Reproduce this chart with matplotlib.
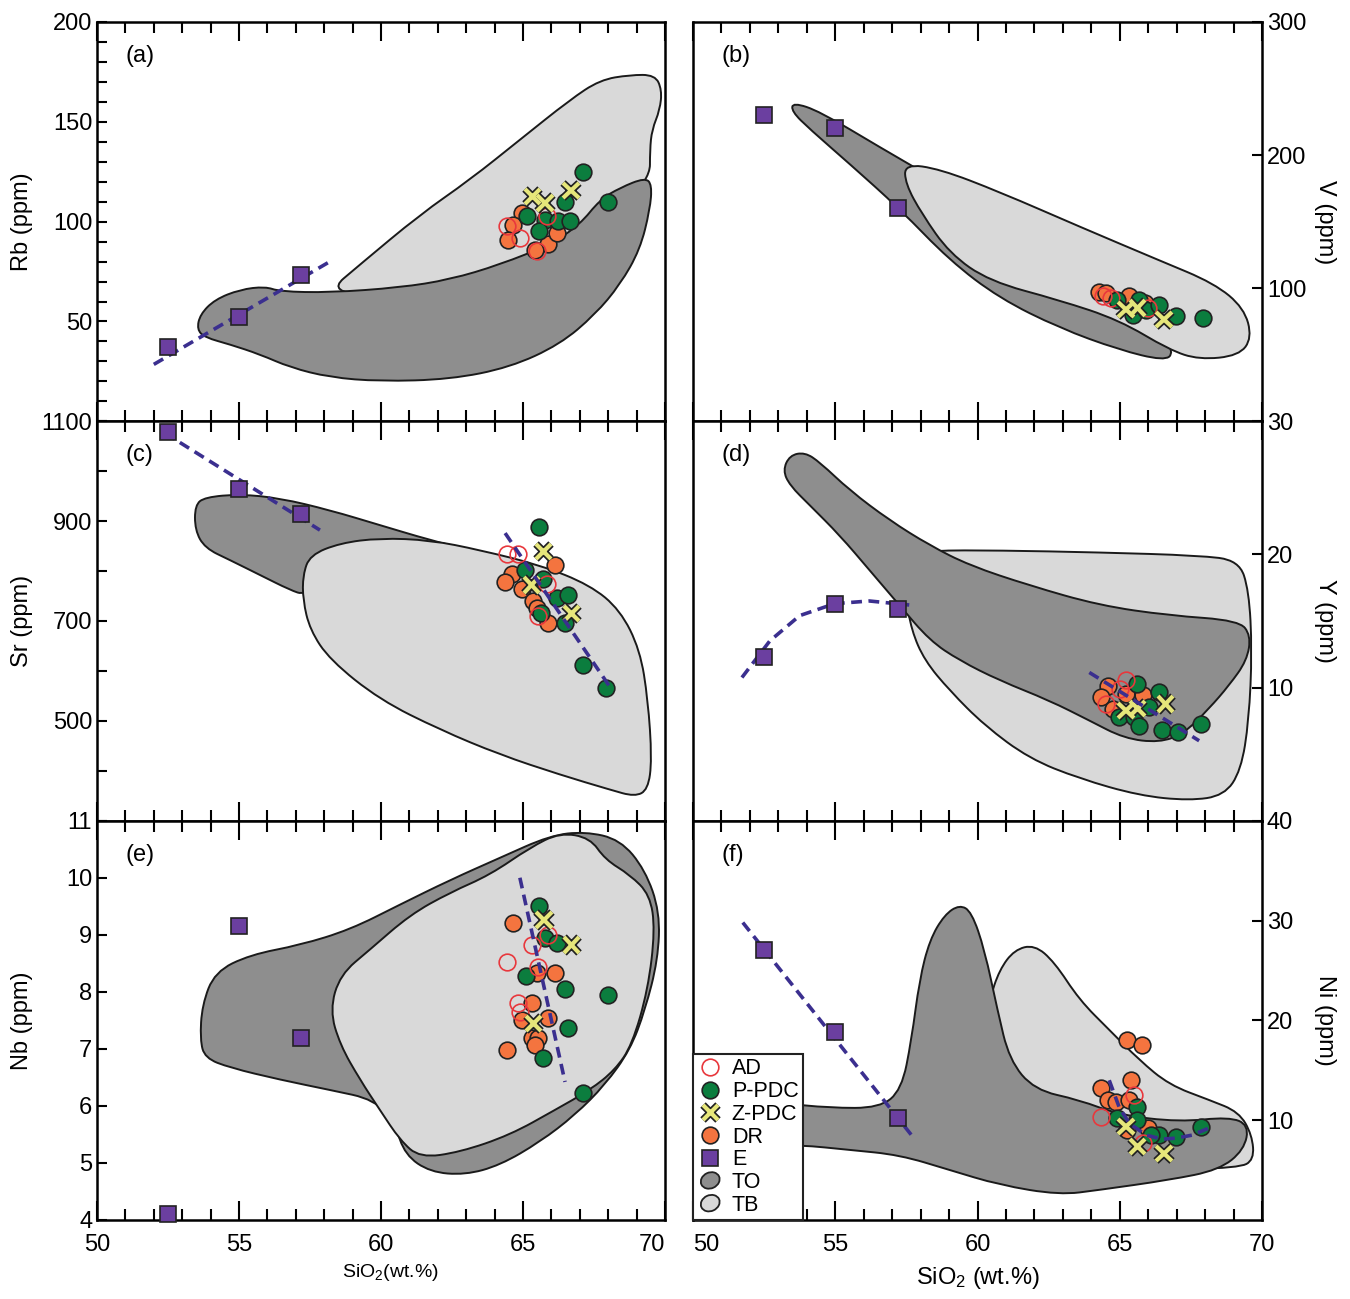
import matplotlib
matplotlib.use("Agg")
import matplotlib.pyplot as plt
import matplotlib.patheffects as pe
from matplotlib.patches import PathPatch, Ellipse, Patch
from matplotlib.path import Path
from matplotlib.lines import Line2D
from matplotlib.legend_handler import HandlerPatch
from matplotlib.ticker import MultipleLocator

plt.rcParams["font.family"] = ["Liberation Sans", "DejaVu Sans"]
plt.rcParams["mathtext.fontset"] = "custom"
plt.rcParams["mathtext.rm"] = "Liberation Sans"
plt.rcParams["mathtext.default"] = "regular"

# ---- E samples (SiO2 shared) ----
e_sio2 = [52.5, 55.0, 57.2]
e_rb = [37, 52, 73.5]
e_v = [230, 220, 160]
e_sr = [1078, 964, 914]
e_y = [12.3, 16.3, 15.9]
e_nb = [4.1, 9.16, 7.19]
e_ni = [27.0, 18.8, 10.2]

# ---- (a) Rb ----
rb_ad = [(64.43, 97.7), (65.83, 102.7), (64.89, 92.0), (65.48, 85.2)]
rb_ppdc = [(67.10, 124.7), (68.0, 109.9), (66.48, 109.7), (65.13, 102.7), (65.77, 100.7),
           (66.24, 100.2), (66.65, 100.2), (65.56, 95.2)]
rb_zpdc = [(65.34, 112.7), (65.77, 109.4), (66.69, 115.7)]
rb_dr = [(64.95, 104.4), (64.66, 98.5), (64.48, 91.0), (65.89, 89.0), (65.42, 86.0), (66.19, 94.4)]
rb_to = [(53.52, 46), (53.63, 53.5), (54.15, 61), (55.04, 66), (55.92, 67.5), (56.44, 65),
         (58.2, 64.5), (60.67, 67), (62.43, 71), (64.19, 78.5), (65.95, 88.5), (67.0, 98.5),
         (67.71, 111), (68.42, 117), (69.3, 122), (69.54, 118.5), (69.47, 106), (69.12, 86),
         (68.42, 68.5), (67.54, 53.5), (66.3, 38.5), (64.54, 27), (62.43, 21), (59.96, 20),
         (58.2, 22), (56.8, 27), (55.74, 33.5), (54.68, 38.5), (53.8, 42)]
rb_tb = [(58.1, 64.5), (59.26, 78.5), (61.37, 103.5), (63.13, 121), (64.89, 141), (66.65, 161),
         (67.71, 171), (68.77, 173.5), (69.65, 173.5), (69.89, 166), (69.82, 156), (69.54, 146),
         (69.47, 136), (69.47, 121), (67.71, 96), (64.19, 68.5), (60.67, 62.5)]
rb_e_fit = [(52.0, 28.5), (58.2, 80.0)]

# ---- (b) V ----
v_ad = [(64.4, 94.0), (64.7, 92.5), (66.0, 85.0)]
v_ppdc = [(64.92, 91.3), (65.68, 91.3), (65.45, 80.1), (65.92, 83.8), (66.39, 87.5),
          (66.97, 78.9), (67.91, 77.6)]
v_zpdc = [(65.22, 83.8), (65.63, 85.1), (66.56, 76.3)]
v_dr = [(64.28, 97.5), (64.52, 96.3), (65.33, 93.8), (65.9, 88.9)]
v_to = [(53.51, 239.6), (54.46, 232.8), (56.56, 206.0), (58.67, 179.9), (60.77, 150.7),
        (62.88, 120.9), (64.98, 92.5), (66.39, 70.1), (66.91, 51.5), (66.56, 45.5),
        (64.98, 53.7), (62.88, 70.1), (60.77, 92.5), (59.02, 120.9), (57.26, 159.7),
        (55.51, 193.3), (54.11, 219.4), (53.47, 232.8)]
v_tb = [(57.44, 193.3), (58.67, 189.6), (60.77, 172.4), (63.58, 146.3), (66.39, 120.9),
        (68.32, 103.7), (69.37, 85.1), (69.65, 62.7), (69.19, 49.3), (67.79, 46.3),
        (66.74, 53.7), (64.98, 76.1), (62.88, 91.0), (60.42, 105.2), (59.02, 126.1),
        (58.04, 156.0), (57.47, 178.4)]

# ---- (c) Sr ----
sr_ad = [(64.43, 835), (64.83, 835), (65.83, 775), (65.54, 709)]
sr_ppdc = [(65.57, 889), (65.07, 802), (65.71, 785), (66.19, 745), (66.6, 752), (65.65, 715),
           (66.48, 695), (67.12, 612), (67.94, 565)]
sr_zpdc = [(65.71, 839), (65.3, 772), (66.71, 715)]
sr_dr = [(66.13, 812), (64.6, 795), (64.37, 779), (64.95, 765), (65.36, 739), (65.5, 725),
         (65.89, 695)]
sr_to = [(53.45, 932), (53.8, 948), (55.04, 954), (56.44, 946), (58.2, 922), (59.96, 892),
         (61.73, 862), (63.13, 842), (61.37, 838), (59.26, 822), (58.2, 786), (57.32, 752),
         (56.8, 762), (55.74, 792), (54.68, 822), (53.8, 846), (53.45, 882)]
sr_tb = [(57.5, 832), (58.56, 856), (59.96, 866), (61.73, 862), (63.49, 842), (65.6, 812),
         (67.36, 772), (68.42, 722), (69.12, 642), (69.4, 542), (69.54, 422), (69.4, 362),
         (68.94, 348), (68.06, 362), (66.3, 392), (64.19, 432), (62.08, 482), (59.96, 542),
         (58.2, 622), (57.5, 682), (57.25, 742), (57.25, 792)]
sr_e_fit = [(52.4, 1076), (57.85, 882)]
sr_s_fit = [(64.37, 876), (68.13, 562)]

# ---- (d) Y ----
y_ad = [(65.22, 10.53), (64.52, 8.77), (65.0, 9.9)]
y_ppdc = [(65.62, 10.28), (66.39, 9.65), (66.04, 8.52), (64.98, 7.77), (65.51, 7.77),
          (65.68, 7.14), (66.5, 6.77), (67.03, 6.64), (67.85, 7.27)]
y_zpdc = [(65.22, 8.27), (65.62, 8.4), (66.62, 8.77)]
y_dr = [(64.57, 10.15), (64.34, 9.27), (64.75, 8.4), (65.22, 9.53), (65.8, 9.4)]
y_to = [(53.4, 27.44), (53.93, 27.67), (54.46, 26.92), (55.51, 24.81), (56.91, 22.56),
        (58.32, 20.68), (59.72, 19.17), (61.82, 17.67), (64.28, 16.17), (66.74, 15.41),
        (69.19, 15.04), (69.61, 13.91), (69.47, 12.03), (68.84, 10.15), (68.14, 8.42),
        (67.26, 6.54), (66.39, 5.86), (65.16, 6.17), (63.93, 7.52), (62.53, 9.02),
        (60.77, 10.53), (59.37, 12.03), (58.32, 13.53), (57.26, 16.17), (56.21, 18.8),
        (55.16, 21.43), (54.11, 23.68), (53.4, 25.19), (53.16, 26.32)]
y_tb = [(57.44, 19.92), (58.32, 20.3), (60.77, 20.3), (64.28, 20.15), (67.79, 19.92),
        (69.19, 19.55), (69.54, 17.29), (69.65, 12.78), (69.54, 7.52), (69.26, 3.76),
        (68.67, 1.88), (67.44, 1.5), (65.68, 1.88), (63.58, 3.16), (61.82, 4.66),
        (60.25, 7.14), (59.02, 9.77), (58.14, 12.03), (57.68, 14.29), (57.47, 16.92)]
y_e_fit = [(51.72, 10.75), (52.7, 13.5), (53.75, 15.4), (54.98, 16.3), (56.2, 16.5), (57.6, 16.2)]
y_s_fit = [(63.93, 11.13), (67.79, 6.0)]

# ---- (e) Nb ----
nb_ad = [(65.89, 9.0), (65.31, 8.82), (64.43, 8.53), (65.54, 8.44), (64.83, 7.8), (64.89, 7.65)]
nb_ppdc = [(65.57, 9.5), (65.77, 8.94), (66.19, 8.85), (65.11, 8.27), (66.48, 8.05),
           (68.0, 7.95), (66.6, 7.36), (65.71, 6.84), (67.12, 6.22)]
nb_zpdc = [(65.74, 9.26), (66.71, 8.82), (65.36, 7.45)]
nb_dr = [(64.66, 9.21), (65.48, 8.33), (66.13, 8.33), (65.3, 7.8), (64.95, 7.51), (65.89, 7.54),
         (65.3, 7.19), (65.54, 7.19), (65.42, 7.07), (64.43, 6.98)]
nb_to = [(53.63, 7.16), (53.7, 7.77), (54.15, 8.35), (55.39, 8.65), (57.15, 8.82), (58.91, 9.09),
         (60.67, 9.53), (62.43, 9.96), (64.19, 10.35), (65.95, 10.74), (67.18, 10.81),
         (68.42, 10.67), (69.3, 10.14), (69.82, 9.4), (69.75, 8.56), (69.3, 7.68), (68.77, 6.98),
         (67.89, 6.37), (66.83, 5.84), (65.6, 5.37), (64.19, 4.96), (62.96, 4.79), (61.73, 4.84),
         (60.85, 5.14), (60.49, 5.67), (59.79, 6.11), (58.2, 6.28), (56.44, 6.46), (54.68, 6.67),
         (53.8, 6.84)]
nb_tb = [(58.2, 7.68), (58.56, 8.3), (59.61, 8.74), (61.02, 9.35), (62.43, 9.74), (63.84, 10.05),
         (65.25, 10.53), (66.3, 10.79), (67.36, 10.7), (67.89, 10.32), (68.77, 10.05),
         (69.47, 9.7), (69.65, 9.09), (69.4, 8.04), (68.84, 7.07), (68.24, 6.63), (67.36, 6.28),
         (66.13, 5.93), (64.54, 5.49), (62.78, 5.19), (61.37, 5.09), (60.67, 5.4), (59.96, 5.93),
         (59.26, 6.46), (58.56, 7.07)]
nb_s_fit = [(64.89, 10.0), (66.48, 6.42)]

# ---- (f) Ni ----
ni_ad = [(65.51, 12.56), (64.34, 10.36), (65.8, 7.69)]
ni_ppdc = [(65.62, 11.36), (64.92, 10.2), (65.62, 10.03), (66.39, 8.52), (66.97, 8.35),
           (67.85, 9.35), (66.1, 8.52)]
ni_zpdc = [(65.22, 9.36), (65.62, 7.35), (66.56, 6.69)]
ni_dr = [(65.27, 18.04), (65.78, 17.54), (65.39, 14.03), (64.34, 13.2), (64.57, 12.06),
         (64.87, 11.86), (65.31, 12.06), (65.27, 9.02), (65.98, 9.19)]
ni_to = [(50.25, 11.03), (50.95, 11.73), (53.05, 11.73), (54.81, 11.23), (56.56, 11.23),
         (57.33, 13.03), (57.68, 18.05), (57.96, 24.06), (58.32, 28.07), (58.84, 30.58),
         (59.37, 31.58), (59.79, 30.88), (60.25, 27.07), (60.7, 21.05), (61.12, 16.04),
         (62.0, 13.03), (63.58, 12.03), (64.98, 10.53), (67.09, 9.82), (68.84, 10.33),
         (69.54, 9.52), (69.37, 7.02), (68.49, 5.01), (66.74, 4.01), (64.28, 3.01), (62.88, 2.51),
         (60.77, 3.51), (59.02, 5.01), (57.26, 6.52), (55.51, 7.02), (53.75, 7.52), (52.0, 7.52),
         (50.6, 8.02), (50.25, 9.52)]
ni_tb = [(60.42, 22.05), (60.77, 25.06), (61.3, 27.07), (62.0, 27.57), (62.7, 25.86),
         (63.58, 22.05), (64.63, 19.05), (65.68, 16.04), (66.74, 13.53), (68.14, 12.03),
         (69.19, 10.83), (69.65, 8.52), (69.72, 6.02), (69.19, 5.21), (66.04, 5.01),
         (60.77, 10.03), (60.25, 17.04)]
ni_e_fit = [(51.75, 29.8), (57.68, 8.5)]
ni_s_fit = [(64.63, 14.0), (64.98, 11.3), (65.33, 9.7), (65.93, 8.5), (66.49, 8.1),
            (66.98, 8.2), (67.54, 8.5), (68.21, 9.3)]

# ---- styles ----
DARK = "#8e8e8e"
LIGHT = "#d9d9d9"
GREEN = "#0b7d3e"
ORANGE = "#f4743f"
RED = "#e8383d"
PURPLE = "#6b3fa0"
YELLOW = "#e6e67a"
TREND = "#3b2f8f"
MS = 12


def xy(pts):
    return [p[0] for p in pts], [p[1] for p in pts]


def rounded(pts):
    # closed outline with the traced points as quadratic control points
    n = len(pts)
    mids = [((pts[i][0] + pts[(i + 1) % n][0]) / 2, (pts[i][1] + pts[(i + 1) % n][1]) / 2)
            for i in range(n)]
    verts = [mids[-1]]
    codes = [Path.MOVETO]
    for i in range(n):
        verts += [pts[i], mids[i]]
        codes += [Path.CURVE3, Path.CURVE3]
    verts.append(mids[-1])
    codes.append(Path.CLOSEPOLY)
    return Path(verts, codes)


def add_field(ax, pts, color, z):
    ax.add_patch(PathPatch(rounded(pts), facecolor=color, edgecolor="#1a1a1a",
                           linewidth=1.4, zorder=z))


def draw_panel(ax, to, tb, dark_on_top, ad, ppdc, zpdc, dr, e_vals, fits):
    if dark_on_top:
        add_field(ax, tb, LIGHT, 1)
        add_field(ax, to, DARK, 2)
    else:
        add_field(ax, to, DARK, 1)
        add_field(ax, tb, LIGHT, 2)
    x, y = xy(dr)
    ax.plot(x, y, ls="none", marker="o", ms=MS, mfc=ORANGE, mec="#222", mew=1.2, zorder=4)
    x, y = xy(ppdc)
    ax.plot(x, y, ls="none", marker="o", ms=MS, mfc=GREEN, mec="#222", mew=1.2, zorder=4)
    x, y = xy(ad)
    ax.plot(x, y, ls="none", marker="o", ms=MS, mfc="none", mec=RED, mew=1.2, zorder=4)
    x, y = xy(zpdc)
    ax.plot(x, y, ls="none", marker="x", ms=11, mew=3, color=YELLOW, zorder=4,
            path_effects=[pe.Stroke(linewidth=5.5, foreground="#222"), pe.Normal()])
    for f in fits:
        x, y = xy(f)
        ax.plot(x, y, color=TREND, lw=2.6, dashes=(3, 1.8), zorder=5)
    ax.plot(e_sio2, e_vals, ls="none", marker="s", ms=MS, mfc=PURPLE, mec="#222", mew=1.2,
            zorder=6, clip_on=False)


fig = plt.figure(figsize=(13.5, 12.99), dpi=100)
W, H = 1350.0, 1299.0
row_top = [22, 421.3, 820.7]
row_h = 399.3
col_left = [97, 693]
col_w = [568, 569]

axes = {}
for r in range(3):
    for c in range(2):
        ax = fig.add_axes([col_left[c] / W, 1 - (row_top[r] + row_h) / H, col_w[c] / W, row_h / H])
        axes[(r, c)] = ax

panels = [
    ((0, 0), rb_to, rb_tb, True, rb_ad, rb_ppdc, rb_zpdc, rb_dr, e_rb, [rb_e_fit],
     (0, 200), [50, 100, 150, 200], 10, "Rb (ppm)", "(a)"),
    ((0, 1), v_to, v_tb, False, v_ad, v_ppdc, v_zpdc, v_dr, e_v, [],
     (0, 300), [100, 200, 300], None, "V (ppm)", "(b)"),
    ((1, 0), sr_to, sr_tb, False, sr_ad, sr_ppdc, sr_zpdc, sr_dr, e_sr, [sr_e_fit, sr_s_fit],
     (300, 1100), [500, 700, 900, 1100], 100, "Sr (ppm)", "(c)"),
    ((1, 1), y_to, y_tb, True, y_ad, y_ppdc, y_zpdc, y_dr, e_y, [y_e_fit, y_s_fit],
     (0, 30), [10, 20, 30], None, "Y (ppm)", "(d)"),
    ((2, 0), nb_to, nb_tb, False, nb_ad, nb_ppdc, nb_zpdc, nb_dr, e_nb, [nb_s_fit],
     (4, 11), [4, 5, 6, 7, 8, 9, 10, 11], None, "Nb (ppm)", "(e)"),
    ((2, 1), ni_to, ni_tb, True, ni_ad, ni_ppdc, ni_zpdc, ni_dr, e_ni, [ni_e_fit, ni_s_fit],
     (0, 40), [10, 20, 30, 40], None, "Ni (ppm)", "(f)"),
]

for key, to, tb, dtop, ad, pp, zp, dr, ev, fits, ylim, yt, ymin, ylab, tag in panels:
    ax = axes[key]
    r, c = key
    draw_panel(ax, to, tb, dtop, ad, pp, zp, dr, ev, fits)
    ax.set_xlim(50, 70)
    ax.set_ylim(*ylim)
    ax.set_xticks([50, 55, 60, 65, 70])
    ax.xaxis.set_minor_locator(MultipleLocator(1))
    ax.set_yticks(yt)
    if ymin:
        ax.yaxis.set_minor_locator(MultipleLocator(ymin))
    for s in ax.spines.values():
        s.set_linewidth(1.8)
    ax.tick_params(axis="x", which="both", direction="in", top=True, bottom=True,
                   width=1.5, labelsize=17, labelbottom=(r == 2), pad=10)
    ax.tick_params(axis="x", which="major", length=14)
    ax.tick_params(axis="x", which="minor", length=8)
    ax.tick_params(axis="y", which="both", direction="in", width=1.5, length=7, labelsize=17)
    if c == 1:
        ax.yaxis.tick_right()
        ax.yaxis.set_label_position("right")
        ax.tick_params(axis="y", which="both", direction="in", left=False, right=True)
        ax.set_ylabel(ylab, fontsize=17, rotation=270, va="center")
        ax.yaxis.set_label_coords(1.111, 0.5)
    else:
        ax.set_ylabel(ylab, fontsize=17, va="center")
        ax.yaxis.set_label_coords(-0.132, 0.5)
    ax.text(0.05, 0.915, tag, transform=ax.transAxes, fontsize=17, va="center", ha="left")

# keep the 70 | 50 labels at the column gap apart
axes[(2, 0)].get_xticklabels()[-1].set_horizontalalignment("right")
axes[(2, 1)].get_xticklabels()[0].set_horizontalalignment("left")

axes[(2, 0)].set_xlabel("SiO$_2$(wt.%)", fontsize=14)
axes[(2, 0)].xaxis.set_label_coords(0.516, -0.105)
axes[(2, 1)].set_xlabel("SiO$_2$ (wt.%)", fontsize=17)
axes[(2, 1)].xaxis.set_label_coords(0.50, -0.112)


def blob(legend, orig_handle, xdescent, ydescent, width, height, fontsize):
    return Ellipse((width / 2 - xdescent, height / 2 - ydescent), width * 0.75, height * 1.05,
                   angle=25)


handles = [
    Line2D([], [], ls="none", marker="o", ms=MS, mfc="none", mec=RED, mew=1.2),
    Line2D([], [], ls="none", marker="o", ms=MS, mfc=GREEN, mec="#222", mew=1.2),
    Line2D([], [], ls="none", marker="x", ms=11, mew=3, color=YELLOW,
           path_effects=[pe.Stroke(linewidth=5.5, foreground="#222"), pe.Normal()]),
    Line2D([], [], ls="none", marker="o", ms=MS, mfc=ORANGE, mec="#222", mew=1.2),
    Line2D([], [], ls="none", marker="s", ms=MS, mfc=PURPLE, mec="#222", mew=1.2),
    Patch(facecolor=DARK, edgecolor="#222", linewidth=1.3),
    Patch(facecolor=LIGHT, edgecolor="#222", linewidth=1.3),
]
labels = ["AD", "P-PDC", "Z-PDC", "DR", "E", "TO", "TB"]
leg = axes[(2, 1)].legend(handles, labels, loc="lower left", bbox_to_anchor=(0, 0),
                          borderaxespad=0, fontsize=15.5, labelspacing=0.08, handlelength=1.2,
                          handletextpad=0.4, borderpad=0.2, fancybox=False, framealpha=1,
                          edgecolor="#222", handler_map={Patch: HandlerPatch(patch_func=blob)})
leg.get_frame().set_linewidth(1.5)
leg.set_zorder(10)

fig.savefig("out.png", dpi=100)
